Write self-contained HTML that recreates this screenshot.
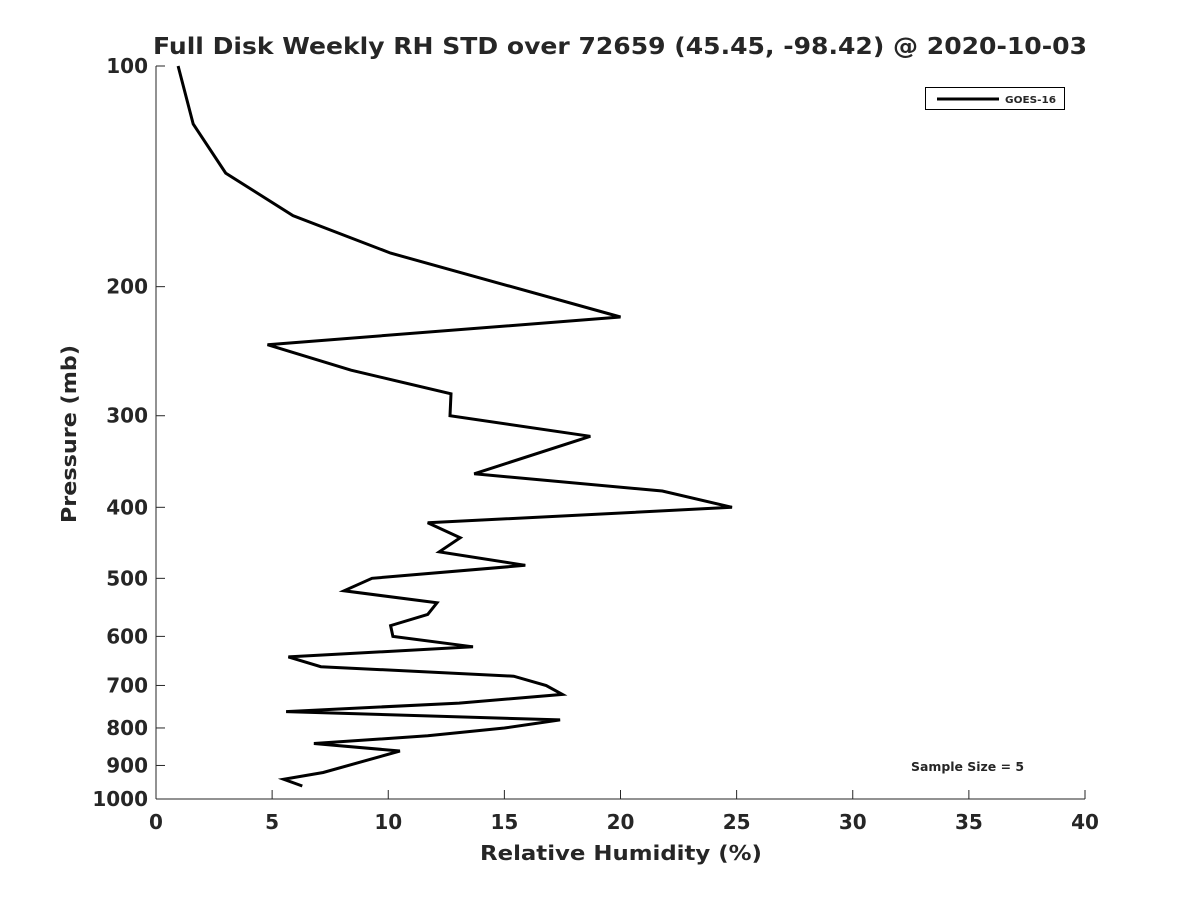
<!DOCTYPE html>
<html><head><meta charset="utf-8"><style>
html,body{margin:0;padding:0;background:#fff;}
svg text{font-family:"DejaVu Sans","Liberation Sans",sans-serif;font-weight:bold;fill:#262626;}
</style></head><body>
<svg width="1200" height="900" viewBox="0 0 1200 900">
<rect width="1200" height="900" fill="#fff"/>
<text x="153" y="54" font-size="23" textLength="934" lengthAdjust="spacingAndGlyphs" fill="#000">Full Disk Weekly RH STD over 72659 (45.45, -98.42) @ 2020-10-03</text>
<g id="axes"></g>
<path id="series" fill="none" stroke="#000" stroke-width="3" stroke-linejoin="miter"/>
<text x="480" y="860" font-size="20" textLength="282" lengthAdjust="spacingAndGlyphs">Relative Humidity (%)</text>
<text transform="translate(76,523) rotate(-90)" font-size="20" textLength="178" lengthAdjust="spacingAndGlyphs">Pressure (mb)</text>
<g>
<rect x="925.5" y="87.5" width="139" height="22" fill="#fff" stroke="#000" stroke-width="1"/>
<line x1="937" y1="99" x2="999" y2="99" stroke="#000" stroke-width="3"/>
<text x="1005" y="103" font-size="10" textLength="51" lengthAdjust="spacingAndGlyphs" fill="#000">GOES-16</text>
</g>
<text x="911" y="771" font-size="12" textLength="113" lengthAdjust="spacingAndGlyphs" fill="#000">Sample Size = 5</text>
</svg>
<script>
const pressures=[100,120,140,160,180,220,240,260,280,300,320,360,380,400,420,440,460,480,500,520,540,560,580,600,620,640,660,680,700,720,740,760,780,800,820,840,860,920,940,960];
const rhStd=[0.95,1.6,3.0,5.9,10.1,20.0,4.8,8.4,12.7,12.66,18.7,13.7,21.8,24.8,11.7,13.1,12.2,15.9,9.3,8.1,12.1,11.7,10.1,10.2,13.65,5.7,7.1,15.4,16.8,17.5,13.05,5.6,17.4,15.0,11.7,6.8,10.5,7.2,5.5,6.3];
const xTicks=[0,5,10,15,20,25,30,35,40];
const yTicks=[100,200,300,400,500,600,700,800,900,1000];
const X0=156,X1=1085,Y0=66,Y1=799;
const xs=v=>X0+(v-0)/40*(X1-X0);
const ys=p=>Y0+(Math.log10(p)-2)*(Y1-Y0);
const NS="http://www.w3.org/2000/svg";
const ax=document.getElementById('axes');
function mk(t,a){const e=document.createElementNS(NS,t);for(const k in a)e.setAttribute(k,a[k]);ax.appendChild(e);return e;}
let l=mk('line',{x1:X0,y1:Y0,x2:X0,y2:Y1,stroke:'#262626','stroke-width':1});


l=mk('line',{x1:X0,y1:Y1,x2:X1,y2:Y1,stroke:'#262626','stroke-width':1});


xTicks.forEach(v=>{const x=xs(v);
 const t=mk('line',{x1:x,y1:Y1,x2:x,y2:Y1-9,stroke:'#262626','stroke-width':1});
 
 
 const s=mk('text',{x:x,y:Y1+30,'font-size':20,'text-anchor':'middle'});s.textContent=v;
 
 
});
yTicks.forEach(p=>{const y=ys(p);
 const t=mk('line',{x1:X0,y1:y,x2:X0+9,y2:y,stroke:'#262626','stroke-width':1});
 
 
 const s=mk('text',{x:X0-8,y:y+7,'font-size':20,'text-anchor':'end'});s.textContent=p;
 
 
});
document.getElementById('series').setAttribute('d',pressures.map((p,i)=>(i?'L':'M')+xs(rhStd[i]).toFixed(1)+','+ys(p).toFixed(1)).join(''));
</script>
</body></html>
